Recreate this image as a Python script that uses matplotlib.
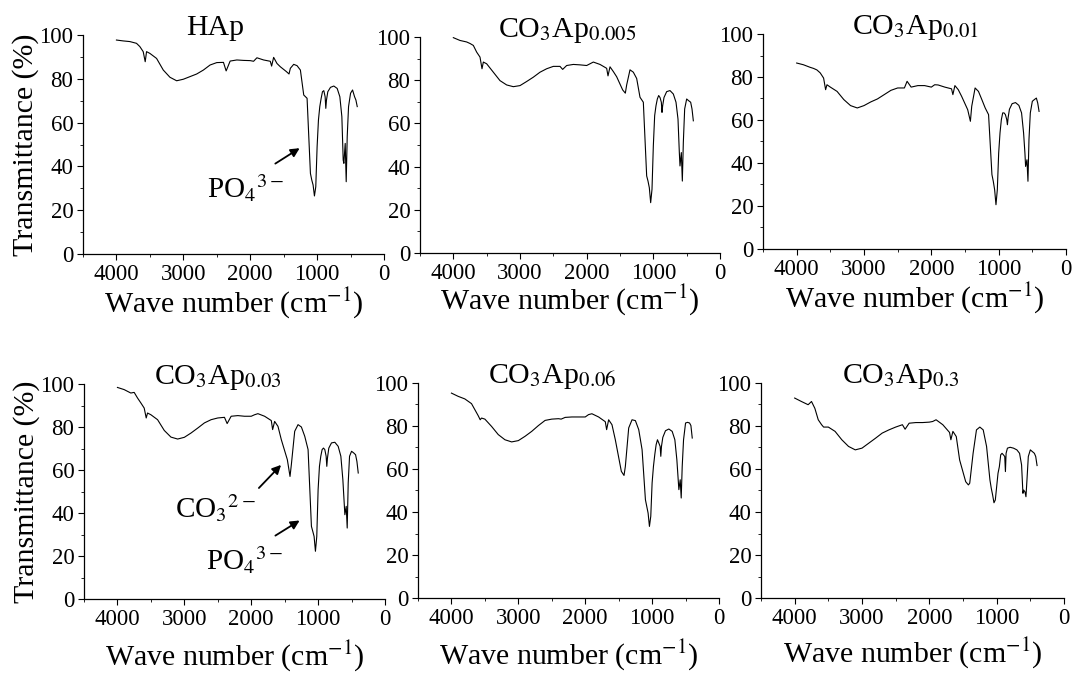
import matplotlib
matplotlib.use("Agg")
import matplotlib.pyplot as plt
from matplotlib.ticker import MultipleLocator

plt.rcParams['font.family'] = ['Liberation Serif', 'DejaVu Serif']
plt.rcParams['mathtext.fontset'] = 'stix'

# wave numbers (cm-1) shared by all spectra
wn = [4000, 3900, 3800, 3750, 3700, 3650, 3600, 3570, 3550, 3500, 3400, 3300,
      3200, 3100, 3000, 2900, 2800, 2700, 2600, 2500, 2400, 2360, 2300, 2200,
      2100, 2000, 1950, 1900, 1800, 1700, 1680, 1650, 1600, 1550, 1460, 1420,
      1400, 1350, 1300, 1250, 1200, 1150, 1100, 1080, 1060, 1040, 1020, 1000,
      980, 960, 940, 920, 900, 880, 870, 860, 840, 800, 750, 700, 660, 630,
      610, 600, 580, 565, 550, 530, 500, 470, 440, 420, 400]

hap = [97.7, 97.3, 97.0, 96.6, 96.2, 94.7, 92.4, 87.8, 92.4, 91.6, 89.3, 84.0,
       80.7, 79.1, 79.8, 81.0, 82.2, 84.0, 86.3, 87.4, 87.5, 83.6, 88.1, 88.6,
       88.4, 88.3, 88.0, 89.6, 88.6, 88.0, 85.8, 89.8, 87.0, 85.5, 83.3, 82.2,
       84.8, 86.6, 86.0, 84.0, 72.6, 71.1, 36.8, 33.8, 31.5, 26.5, 30.7, 49.0,
       61.2, 67.3, 71.0, 74.1, 74.6, 71.8, 66.5, 70.3, 74.1, 76.1, 76.7, 75.6,
       71.8, 62.7, 42.9, 41.4, 50.5, 33.0, 53.6, 67.3, 73.4, 74.9, 71.8, 70.3, 67.3]

co3_0005 = [99.7, 98.4, 97.7, 97.0, 96.1, 93.0, 90.7, 85.3, 88.4, 87.6, 83.7, 79.8,
            77.8, 77.0, 77.5, 79.4, 81.4, 83.7, 85.3, 86.4, 86.4, 85.0, 86.8, 87.3,
            87.1, 86.8, 87.6, 88.4, 87.3, 85.5, 82.0, 86.2, 84.0, 81.6, 75.5, 74.0,
            77.8, 84.8, 83.7, 80.8, 72.1, 69.8, 35.7, 33.3, 30.2, 23.3, 29.5, 49.6,
            63.6, 68.2, 71.3, 72.9, 72.0, 69.8, 65.1, 68.2, 72.0, 74.7, 75.2, 73.6,
            69.8, 62.0, 46.5, 40.3, 46.5, 33.3, 51.2, 66.7, 71.3, 70.5, 69.8, 66.7, 61.2]

co3_001 = [86.5, 85.7, 84.5, 84.0, 83.3, 81.9, 79.5, 74.1, 76.4, 75.3, 73.3, 69.5,
           66.7, 65.6, 66.7, 68.4, 69.8, 71.8, 73.8, 74.9, 74.9, 78.0, 75.3, 76.0,
           76.0, 75.3, 76.4, 76.3, 75.3, 74.5, 71.8, 76.0, 74.1, 71.0, 64.8, 59.4,
           66.4, 74.9, 73.3, 69.5, 65.6, 62.5, 34.6, 31.5, 27.6, 20.6, 27.6, 44.6,
           54.0, 60.2, 63.3, 63.3, 62.5, 60.2, 57.8, 61.0, 65.0, 67.6, 68.1, 66.8,
           63.3, 54.0, 44.6, 38.4, 41.5, 31.5, 50.9, 63.3, 68.7, 69.5, 70.2, 67.9, 64.0]

co3_003 = [98.4, 97.4, 95.8, 96.1, 93.5, 91.2, 88.8, 84.2, 86.5, 85.7, 83.4, 78.4,
           75.3, 74.4, 75.2, 77.2, 79.5, 81.9, 83.4, 84.2, 84.5, 81.6, 85.0, 85.3,
           85.0, 85.0, 85.7, 86.2, 85.0, 83.0, 78.8, 82.6, 80.3, 74.1, 64.8, 57.0,
           62.5, 78.0, 81.1, 80.0, 75.7, 69.5, 33.8, 31.5, 29.1, 22.2, 29.1, 50.9,
           61.7, 66.4, 69.5, 70.2, 69.5, 66.4, 61.7, 65.6, 70.2, 72.6, 72.9, 71.0,
           66.4, 55.5, 44.6, 39.2, 43.1, 33.0, 54.0, 66.4, 68.7, 68.0, 67.1, 64.0, 58.6]

co3_006 = [95.3, 93.8, 92.6, 91.5, 90.4, 87.6, 84.8, 82.9, 83.7, 83.2, 79.8, 76.0,
           73.6, 72.6, 73.2, 75.2, 77.5, 80.2, 82.6, 83.2, 83.4, 83.2, 84.0, 84.2,
           84.2, 84.2, 85.3, 85.7, 84.2, 82.0, 78.3, 82.9, 80.6, 73.6, 58.9, 57.0,
           61.2, 79.1, 82.9, 82.5, 78.3, 69.0, 45.7, 42.6, 39.5, 33.3, 38.0, 53.5,
           61.2, 66.7, 71.3, 73.6, 72.1, 70.5, 65.9, 70.5, 74.7, 77.8, 78.6, 77.5,
           73.6, 64.3, 55.0, 50.4, 55.0, 46.5, 61.2, 73.6, 81.4, 81.7, 81.4, 80.2, 74.4]

co3_03 = [93.0, 91.4, 89.9, 91.4, 88.2, 82.9, 80.6, 79.5, 79.5, 79.5, 77.5, 73.6,
          70.5, 68.9, 69.7, 72.0, 74.3, 76.7, 78.2, 79.5, 80.6, 78.5, 81.3, 81.6,
          81.6, 81.8, 82.1, 82.9, 80.6, 77.0, 73.6, 77.5, 75.1, 64.2, 54.1, 52.6,
          53.4, 67.3, 78.2, 79.5, 78.2, 70.5, 54.9, 51.0, 47.9, 44.3, 45.6, 51.8,
          58.0, 61.1, 66.6, 67.3, 66.6, 65.8, 58.8, 67.3, 69.7, 70.1, 69.7, 68.9,
          67.3, 61.9, 48.7, 50.2, 49.4, 47.1, 54.9, 65.8, 68.9, 68.1, 67.3, 65.8, 61.6]

titles = ['HAp', r'CO$_3$Ap$_{0.005}$', r'CO$_3$Ap$_{0.01}$',
          r'CO$_3$Ap$_{0.03}$', r'CO$_3$Ap$_{0.06}$', r'CO$_3$Ap$_{0.3}$']
spectra = [hap, co3_0005, co3_001, co3_003, co3_006, co3_03]

W, H = 1076, 675
fig = plt.figure(figsize=(W / 100, H / 100), dpi=100)

# axes boxes in pixels: left, top, width, height
boxes = [(83, 35, 301, 219), (420, 37, 300, 216), (763, 34, 303, 215),
         (84, 384, 301, 215), (418, 383, 301, 215), (761, 383, 303, 215)]
title_x = [0.44, 0.49, 0.505, 0.445, 0.445, 0.46]
xlab_off = [31, 29, 31, 39, 39, 37]

axes = []
for i, (l, t, w, h) in enumerate(boxes):
    ax = fig.add_axes([l / W, 1 - (t + h) / H, w / W, h / H])
    ax.plot(wn, spectra[i], color='black', lw=0.8)
    ax.set_xlim(4500, 0)
    ax.set_ylim(0, 100)
    ax.set_xticks([4000, 3000, 2000, 1000, 0])
    ax.set_yticks([0, 20, 40, 60, 80, 100])
    ax.yaxis.set_minor_locator(MultipleLocator(10))
    ax.xaxis.set_minor_locator(MultipleLocator(500))
    for s in ['top', 'right']:
        ax.spines[s].set_visible(False)
    for s in ['left', 'bottom']:
        ax.spines[s].set_linewidth(0.9)
    ax.tick_params(axis='both', which='major', direction='out', length=4,
                   width=0.8, labelsize=16.5, pad=3)
    ax.tick_params(axis='both', which='minor', direction='out', length=2, width=0.6)
    ax.set_xlabel('Wave number (cm$^{-1}$)', fontsize=21.5)
    ax.xaxis.set_label_coords(0.5, -xlab_off[i] / h)
    if i % 3 == 0:
        ax.set_ylabel('Transmittance (%)', fontsize=21.5)
        ax.yaxis.set_label_coords(-44 / w, 0.5)
    ax.text(title_x[i], 1.0, titles[i], transform=ax.transAxes, ha='center',
            va='baseline', fontsize=21.5)
    axes.append(ax)

arrow = dict(arrowstyle='-|>', color='black', lw=1.3, mutation_scale=13)

axes[0].annotate('', xy=(1226, 49), xytext=(1660, 40.6), arrowprops=arrow)
axes[0].text(2063, 30, r'PO$_4$$^{3-}$', ha='center', va='center', fontsize=21)

axes[3].annotate('', xy=(1525, 63.3), xytext=(1914, 50.7), arrowprops=arrow)
axes[3].text(2542, 42, r'CO$_3$$^{2-}$', ha='center', va='center', fontsize=21)
axes[3].annotate('', xy=(1241, 37.2), xytext=(1674, 28.8), arrowprops=arrow)
axes[3].text(2093, 18, r'PO$_4$$^{3-}$', ha='center', va='center', fontsize=21)

fig.savefig('out.png', dpi=100)
